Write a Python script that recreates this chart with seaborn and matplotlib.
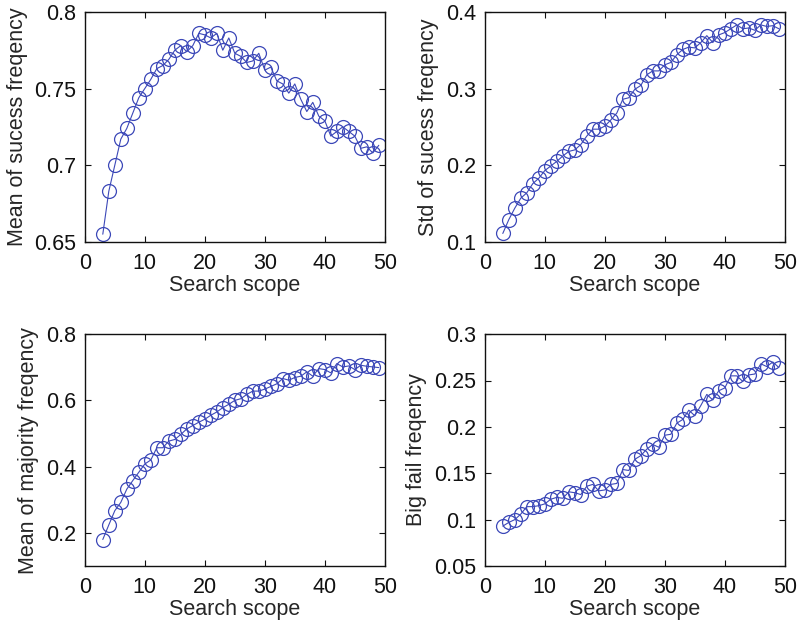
import matplotlib
matplotlib.use("Agg")
import matplotlib.pyplot as plt
import seaborn as sns
import pandas as pd

scope = list(range(3, 50))

mean_success = [0.655, 0.683, 0.700, 0.717, 0.724, 0.734, 0.744, 0.750, 0.756, 0.763,
                0.765, 0.769, 0.775, 0.778, 0.774, 0.778, 0.786, 0.785, 0.783, 0.786,
                0.775, 0.783, 0.773, 0.771, 0.767, 0.768, 0.773, 0.762, 0.764, 0.755,
                0.753, 0.747, 0.753, 0.743, 0.735, 0.741, 0.732, 0.729, 0.719, 0.722,
                0.725, 0.722, 0.719, 0.711, 0.712, 0.708, 0.713]

std_success = [0.111, 0.129, 0.144, 0.157, 0.164, 0.176, 0.183, 0.193, 0.199, 0.205,
               0.212, 0.218, 0.220, 0.227, 0.238, 0.247, 0.247, 0.251, 0.259, 0.268,
               0.286, 0.288, 0.299, 0.304, 0.318, 0.323, 0.323, 0.331, 0.334, 0.344,
               0.351, 0.354, 0.353, 0.360, 0.369, 0.360, 0.370, 0.373, 0.378, 0.383,
               0.378, 0.379, 0.376, 0.383, 0.381, 0.382, 0.378]

mean_majority = [0.180, 0.224, 0.267, 0.292, 0.332, 0.358, 0.383, 0.408, 0.420, 0.457,
                 0.457, 0.477, 0.482, 0.497, 0.514, 0.524, 0.534, 0.543, 0.555, 0.565,
                 0.578, 0.588, 0.600, 0.605, 0.618, 0.628, 0.628, 0.634, 0.642, 0.650,
                 0.666, 0.661, 0.669, 0.673, 0.686, 0.673, 0.696, 0.693, 0.683, 0.711,
                 0.701, 0.704, 0.693, 0.706, 0.703, 0.701, 0.699]

big_fail = [0.093, 0.097, 0.100, 0.106, 0.114, 0.114, 0.115, 0.117, 0.122, 0.124,
            0.123, 0.130, 0.129, 0.127, 0.136, 0.138, 0.131, 0.132, 0.138, 0.139,
            0.154, 0.153, 0.165, 0.169, 0.176, 0.181, 0.178, 0.191, 0.192, 0.204,
            0.208, 0.218, 0.212, 0.223, 0.235, 0.229, 0.239, 0.242, 0.255, 0.255,
            0.249, 0.256, 0.257, 0.268, 0.265, 0.270, 0.264]

panels = [
    (mean_success, "Mean of sucess freqency", (0.65, 0.8), [0.65, 0.7, 0.75, 0.8], ["0.65", "0.7", "0.75", "0.8"]),
    (std_success, "Std of sucess freqency", (0.1, 0.4), [0.1, 0.2, 0.3, 0.4], ["0.1", "0.2", "0.3", "0.4"]),
    (mean_majority, "Mean of majority freqency", (0.1, 0.8), [0.2, 0.4, 0.6, 0.8], ["0.2", "0.4", "0.6", "0.8"]),
    (big_fail, "Big fail freqency", (0.05, 0.3), [0.05, 0.1, 0.15, 0.2, 0.25, 0.3], ["0.05", "0.1", "0.15", "0.2", "0.25", "0.3"]),
]

sns.set_style("ticks", {"xtick.direction": "in", "ytick.direction": "in"})
plt.rcParams["font.family"] = ["Liberation Sans", "DejaVu Sans"]
plt.rcParams["font.size"] = 15

fig = plt.figure(figsize=(8, 6.25), dpi=100)
positions = [
    [0.106, 0.613, 0.375, 0.368],
    [0.606, 0.613, 0.375, 0.368],
    [0.106, 0.0944, 0.375, 0.371],
    [0.606, 0.0944, 0.375, 0.371],
]
color = "#3c48b8"

for pos, (vals, ylabel, ylim, yticks, yticklabels) in zip(positions, panels):
    ax = fig.add_axes(pos)
    df = pd.DataFrame({"scope": scope, "val": vals})
    sns.lineplot(data=df, x="scope", y="val", ax=ax, color=color, linewidth=0.8,
                 marker="o", markersize=10, markerfacecolor="none",
                 markeredgecolor=color, markeredgewidth=0.9)
    ax.set_xlim(0, 50)
    ax.set_ylim(*ylim)
    ax.set_xticks([0, 10, 20, 30, 40, 50])
    ax.set_xticklabels(["0", "10", "20", "30", "40", "50"])
    ax.set_yticks(yticks)
    ax.set_yticklabels(yticklabels)
    ax.set_xlabel("Search scope", fontsize=15.5, labelpad=1)
    ax.set_ylabel(ylabel, fontsize=15.5, labelpad=5)
    ax.tick_params(axis="both", which="both", direction="in", top=True, right=True,
                   labelsize=15.5, length=4, width=0.8, colors="#111111")
    ax.tick_params(axis="x", pad=8)
    ax.tick_params(axis="y", pad=6)
    for s in ax.spines.values():
        s.set_visible(True)
        s.set_linewidth(1.0)
        s.set_color("#111111")

fig.savefig("out.png", dpi=100)
